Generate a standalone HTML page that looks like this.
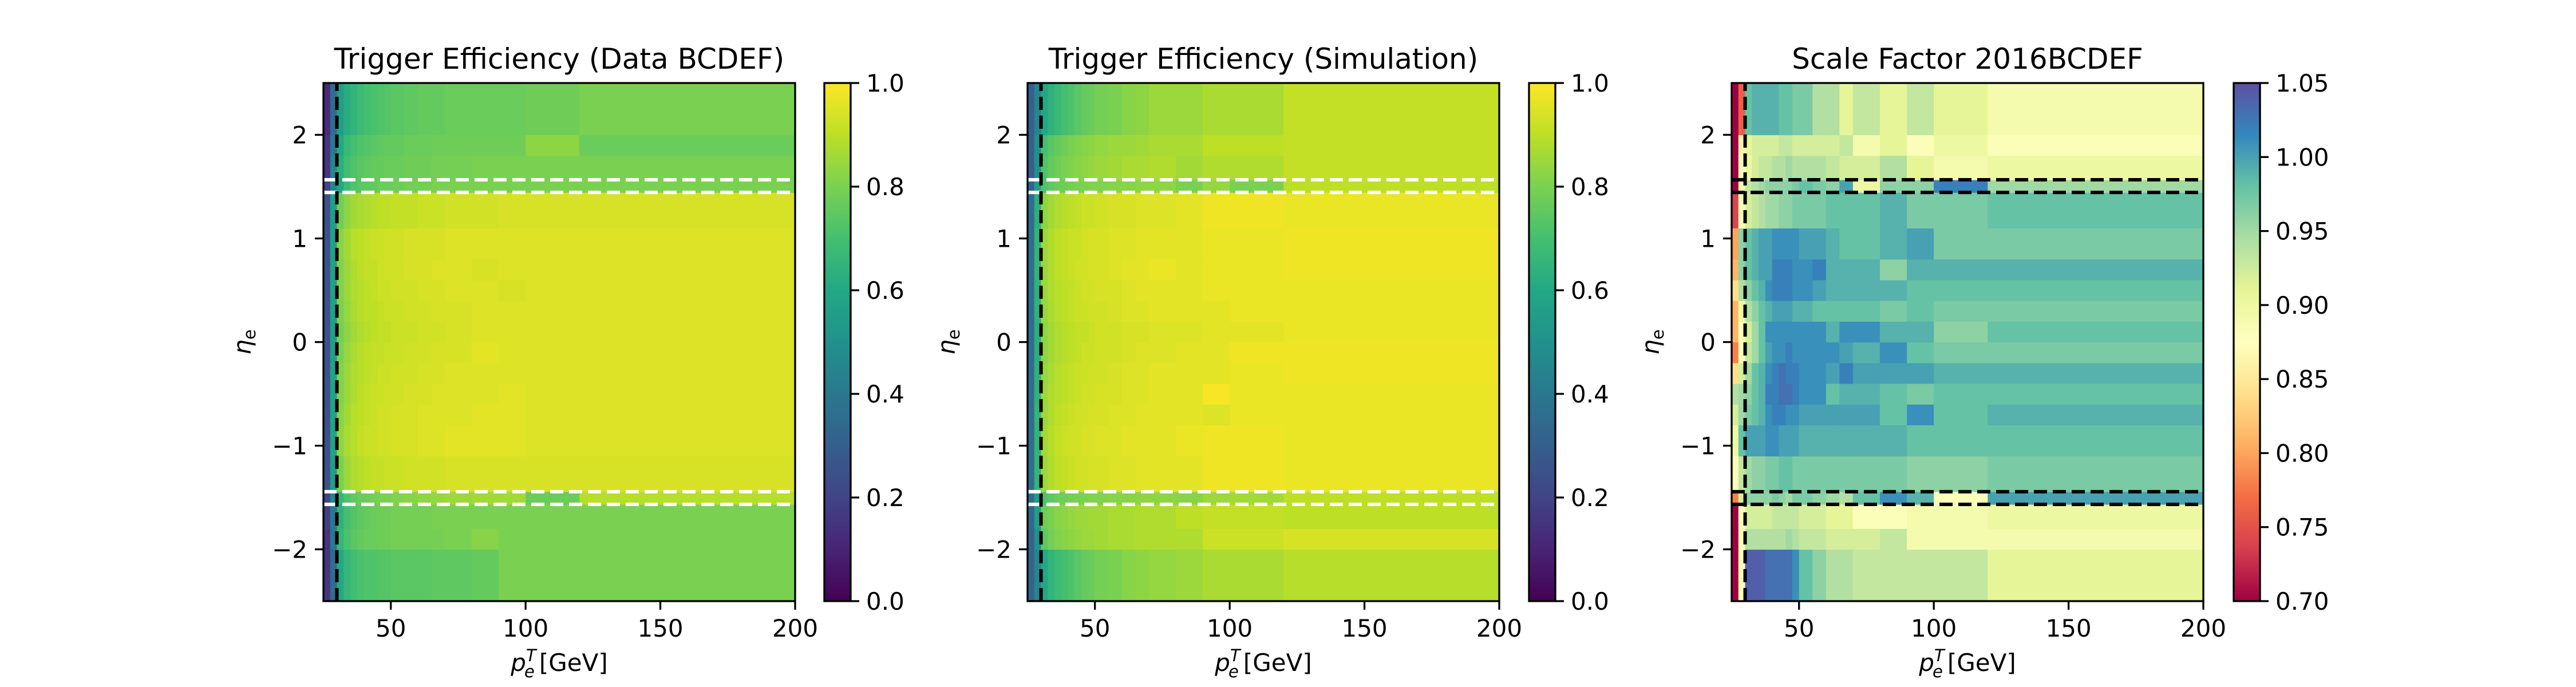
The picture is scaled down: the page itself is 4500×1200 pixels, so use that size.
<!DOCTYPE html>
<html><head><meta charset="utf-8">
<style>
html,body{margin:0;padding:0;background:#fff;}
svg{display:block;font-family:"DejaVu Sans","Liberation Sans",sans-serif;}
</style></head>
<body>
<svg id="fig" xmlns="http://www.w3.org/2000/svg" width="4500" height="1200" viewBox="0 0 4500 1200">
<defs id="defs"></defs>
</svg>
<script>
// ---- data ----
const ptEdges = [25,27.5,30,32.5,35,37.5,40,42.5,45,47.5,50,55,60,65,70,80,90,100,120,200];
const etaEdges = [-2.5,-2.0,-1.8,-1.566,-1.444,-1.1,-0.8,-0.6,-0.4,-0.2,0,0.2,0.4,0.6,0.8,1.1,1.444,1.566,1.8,2.0,2.5];
const xTicks = [50,100,150,200];
const yTicks = [-2,-1,0,1,2];
const effTicks = [0,0.2,0.4,0.6,0.8,1.0];
const sfTicks = [0.70,0.75,0.80,0.85,0.90,0.95,1.00,1.05];
const titles = ["Trigger Efficiency (Data BCDEF)","Trigger Efficiency (Simulation)","Scale Factor 2016BCDEF"];

const effData = [
[0.15,0.35,0.6,0.66,0.69,0.71,0.72,0.72,0.73,0.73,0.74,0.74,0.74,0.75,0.75,0.76,0.8,0.8,0.8],
[0.15,0.4,0.66,0.71,0.74,0.76,0.77,0.77,0.78,0.78,0.79,0.79,0.79,0.79,0.8,0.82,0.8,0.8,0.8],
[0.18,0.4,0.64,0.7,0.73,0.75,0.76,0.77,0.78,0.78,0.79,0.79,0.79,0.8,0.8,0.8,0.8,0.8,0.8],
[0.2,0.45,0.66,0.72,0.75,0.77,0.78,0.79,0.8,0.8,0.81,0.82,0.83,0.84,0.85,0.86,0.86,0.77,0.89],
[0.25,0.55,0.8,0.85,0.88,0.89,0.9,0.91,0.91,0.92,0.92,0.93,0.93,0.93,0.94,0.94,0.94,0.94,0.94],
[0.25,0.58,0.83,0.87,0.89,0.91,0.92,0.92,0.93,0.93,0.94,0.94,0.95,0.95,0.96,0.96,0.96,0.95,0.95],
[0.25,0.58,0.82,0.86,0.89,0.9,0.91,0.92,0.93,0.93,0.94,0.94,0.95,0.95,0.95,0.96,0.96,0.95,0.95],
[0.25,0.58,0.81,0.85,0.88,0.9,0.91,0.92,0.92,0.93,0.93,0.94,0.94,0.95,0.95,0.95,0.96,0.95,0.95],
[0.25,0.58,0.81,0.85,0.88,0.89,0.9,0.91,0.92,0.92,0.93,0.93,0.94,0.94,0.95,0.95,0.95,0.95,0.95],
[0.25,0.56,0.8,0.84,0.87,0.89,0.9,0.91,0.91,0.92,0.92,0.93,0.93,0.94,0.94,0.96,0.95,0.95,0.95],
[0.25,0.56,0.79,0.83,0.86,0.88,0.89,0.9,0.91,0.91,0.92,0.92,0.93,0.93,0.94,0.95,0.95,0.95,0.95],
[0.25,0.56,0.8,0.84,0.87,0.89,0.9,0.9,0.91,0.92,0.92,0.93,0.93,0.94,0.94,0.95,0.95,0.95,0.95],
[0.25,0.57,0.81,0.85,0.88,0.89,0.9,0.91,0.92,0.92,0.93,0.93,0.94,0.94,0.95,0.95,0.94,0.95,0.95],
[0.25,0.57,0.81,0.85,0.88,0.9,0.91,0.91,0.92,0.93,0.93,0.94,0.94,0.95,0.95,0.94,0.95,0.95,0.95],
[0.25,0.57,0.82,0.86,0.89,0.9,0.91,0.92,0.92,0.93,0.93,0.94,0.94,0.94,0.95,0.95,0.95,0.95,0.95],
[0.25,0.55,0.78,0.83,0.86,0.87,0.88,0.89,0.9,0.9,0.91,0.91,0.92,0.92,0.93,0.93,0.94,0.94,0.94],
[0.2,0.45,0.6,0.68,0.72,0.74,0.75,0.76,0.77,0.77,0.78,0.79,0.79,0.8,0.8,0.8,0.8,0.8,0.8],
[0.15,0.45,0.63,0.69,0.72,0.74,0.75,0.76,0.76,0.77,0.77,0.78,0.78,0.79,0.79,0.8,0.8,0.8,0.8],
[0.15,0.4,0.6,0.67,0.7,0.72,0.73,0.74,0.75,0.76,0.76,0.77,0.77,0.78,0.78,0.78,0.78,0.83,0.77],
[0.12,0.35,0.55,0.62,0.65,0.68,0.7,0.71,0.72,0.73,0.74,0.75,0.76,0.76,0.77,0.77,0.77,0.78,0.8]
];
const effSim = [
[0.32,0.45,0.6,0.65,0.68,0.7,0.72,0.74,0.76,0.77,0.79,0.8,0.82,0.83,0.84,0.85,0.87,0.87,0.89],
[0.32,0.5,0.75,0.79,0.81,0.82,0.83,0.84,0.85,0.85,0.86,0.87,0.87,0.88,0.88,0.88,0.92,0.92,0.94],
[0.33,0.55,0.78,0.8,0.82,0.83,0.84,0.85,0.85,0.86,0.86,0.87,0.87,0.88,0.88,0.9,0.91,0.91,0.9],
[0.35,0.55,0.72,0.75,0.77,0.78,0.79,0.8,0.8,0.81,0.81,0.82,0.82,0.83,0.83,0.82,0.85,0.86,0.9],
[0.35,0.65,0.85,0.88,0.9,0.91,0.92,0.93,0.93,0.94,0.94,0.95,0.95,0.96,0.96,0.96,0.98,0.98,0.97],
[0.35,0.65,0.86,0.89,0.91,0.92,0.93,0.93,0.94,0.94,0.95,0.95,0.96,0.96,0.96,0.97,0.98,0.98,0.97],
[0.35,0.65,0.85,0.88,0.9,0.91,0.92,0.93,0.93,0.94,0.94,0.95,0.95,0.96,0.96,0.96,0.95,0.97,0.97],
[0.35,0.64,0.85,0.88,0.89,0.9,0.91,0.92,0.93,0.93,0.94,0.94,0.95,0.95,0.96,0.96,0.99,0.97,0.97],
[0.35,0.64,0.84,0.87,0.89,0.9,0.91,0.92,0.92,0.93,0.93,0.94,0.95,0.95,0.96,0.96,0.96,0.97,0.98],
[0.35,0.63,0.83,0.86,0.88,0.89,0.9,0.91,0.92,0.92,0.93,0.93,0.94,0.95,0.95,0.96,0.96,0.98,0.98],
[0.35,0.63,0.83,0.86,0.88,0.89,0.9,0.91,0.91,0.92,0.93,0.93,0.94,0.94,0.95,0.95,0.96,0.96,0.97],
[0.35,0.64,0.84,0.87,0.89,0.9,0.91,0.92,0.92,0.93,0.93,0.94,0.95,0.95,0.96,0.96,0.96,0.97,0.97],
[0.35,0.64,0.85,0.88,0.89,0.9,0.91,0.92,0.93,0.93,0.94,0.94,0.95,0.96,0.96,0.96,0.97,0.97,0.97],
[0.35,0.65,0.85,0.88,0.9,0.91,0.92,0.93,0.93,0.94,0.94,0.95,0.96,0.96,0.97,0.96,0.97,0.97,0.98],
[0.35,0.65,0.85,0.88,0.9,0.91,0.92,0.92,0.93,0.94,0.94,0.95,0.95,0.96,0.96,0.96,0.97,0.97,0.98],
[0.35,0.63,0.83,0.86,0.88,0.89,0.9,0.91,0.92,0.92,0.93,0.94,0.94,0.95,0.95,0.96,0.98,0.98,0.97],
[0.32,0.55,0.72,0.75,0.77,0.78,0.79,0.8,0.8,0.81,0.81,0.82,0.82,0.83,0.83,0.8,0.84,0.8,0.9],
[0.3,0.5,0.72,0.76,0.78,0.8,0.81,0.82,0.83,0.84,0.85,0.86,0.87,0.87,0.88,0.86,0.88,0.88,0.91],
[0.3,0.5,0.7,0.74,0.76,0.78,0.8,0.81,0.82,0.83,0.84,0.85,0.85,0.86,0.87,0.87,0.9,0.9,0.91],
[0.3,0.45,0.6,0.64,0.67,0.7,0.72,0.74,0.76,0.77,0.79,0.8,0.82,0.83,0.85,0.85,0.87,0.87,0.91]
];
const scaleFactor = [
[0.70,0.88,1.04,1.04,1.04,1.03,1.03,1.03,1.03,1.01,0.98,0.96,0.94,0.94,0.93,0.93,0.93,0.93,0.91],
[0.70,0.88,0.94,0.94,0.94,0.94,0.94,0.94,0.95,0.94,0.93,0.93,0.92,0.92,0.92,0.93,0.89,0.89,0.89],
[0.70,0.88,0.92,0.92,0.92,0.92,0.93,0.93,0.93,0.93,0.92,0.92,0.91,0.91,0.88,0.88,0.89,0.89,0.90],
[0.78,0.92,0.96,0.96,0.96,0.96,0.97,0.96,0.95,0.97,0.97,0.96,0.95,0.94,0.98,1.01,0.99,0.88,1.00],
[0.88,0.93,0.95,0.96,0.96,0.97,0.97,0.98,0.98,0.97,0.97,0.97,0.97,0.97,0.97,0.97,0.96,0.96,0.97],
[0.90,0.98,1.0,1.0,1.0,1.01,1.01,1.0,1.0,1.0,0.99,0.99,0.99,0.99,0.99,0.99,0.98,0.98,0.98],
[0.92,0.95,0.97,0.98,0.99,1.01,1.02,1.02,1.01,1.01,1.0,1.0,1.0,1.0,1.0,0.98,1.01,0.98,0.99],
[0.94,0.95,0.96,0.98,0.99,1.02,1.02,1.03,1.03,1.02,1.01,1.01,0.98,0.99,0.99,0.98,0.97,0.98,0.98],
[0.84,0.92,0.95,0.98,0.99,1.01,1.02,1.03,1.02,1.02,1.01,1.01,1.0,1.02,1.0,1.0,1.0,0.99,0.99],
[0.78,0.88,0.93,0.95,0.98,1.0,1.01,1.01,1.02,1.01,1.01,1.01,1.01,1.0,0.99,1.01,0.98,0.97,0.97],
[0.81,0.88,0.92,0.95,0.98,1.01,1.01,1.01,1.01,1.01,1.01,1.01,0.99,1.01,1.01,0.99,0.99,0.96,0.98],
[0.81,0.9,0.94,0.96,0.98,0.99,1.0,1.0,1.0,0.99,0.99,0.98,0.98,0.98,0.98,0.97,0.98,0.97,0.97],
[0.84,0.94,0.96,0.98,0.99,1.01,1.02,1.02,1.02,1.01,1.01,1.0,0.99,0.99,0.99,0.99,0.98,0.98,0.98],
[0.81,0.96,0.98,0.99,1.0,1.0,1.02,1.02,1.02,1.01,1.01,1.02,0.99,0.99,0.99,0.96,0.99,0.99,0.99],
[0.80,0.96,0.98,0.99,1.0,1.0,1.01,1.01,1.01,1.01,1.0,1.0,0.99,0.98,0.98,0.99,1.0,0.97,0.97],
[0.74,0.88,0.92,0.93,0.94,0.95,0.95,0.96,0.96,0.97,0.97,0.97,0.98,0.98,0.98,0.99,0.97,0.97,0.98],
[0.70,0.89,0.93,0.94,0.95,0.96,0.96,0.96,0.96,0.97,0.98,0.97,0.96,1.0,0.90,0.96,0.96,1.02,0.95],
[0.70,0.88,0.90,0.92,0.93,0.93,0.94,0.94,0.95,0.94,0.94,0.94,0.93,0.92,0.92,0.94,0.91,0.89,0.90],
[0.70,0.86,0.91,0.92,0.92,0.92,0.92,0.93,0.93,0.92,0.92,0.92,0.92,0.93,0.89,0.91,0.88,0.90,0.88],
[0.70,0.76,0.98,0.99,0.99,0.99,0.99,0.98,0.98,0.97,0.97,0.94,0.94,0.91,0.93,0.91,0.93,0.91,0.89]
];

// ---- colormaps ----
const viridisStops = ["#440154","#482475","#414487","#355f8d","#2a788e","#21918c","#22a884","#44bf70","#7ad151","#bddf26","#fde725"];
const spectralStops = ["#9e0142","#d53e4f","#f46d43","#fdae61","#fee08b","#ffffbf","#e6f598","#abdda4","#66c2a5","#3288bd","#5e4fa2"];
function hex2rgb(h){return [parseInt(h.slice(1,3),16),parseInt(h.slice(3,5),16),parseInt(h.slice(5,7),16)];}
function cmap(stops,t){
  t=Math.max(0,Math.min(1,t));
  const n=stops.length-1, f=t*n, i=Math.min(n-1,Math.floor(f)), u=f-i;
  const a=hex2rgb(stops[i]), b=hex2rgb(stops[i+1]);
  return "rgb("+a.map((v,k)=>Math.round(v+(b[k]-v)*u)).join(",")+")";
}

const NS="http://www.w3.org/2000/svg";
const svg=document.getElementById('fig');
const defs=document.getElementById('defs');
function mk(tag,attrs,parent){const e=document.createElementNS(NS,tag);for(const k in attrs)e.setAttribute(k,attrs[k]);(parent||svg).appendChild(e);return e;}

const PY0=145, PY1=1050, PW=824;
const panels=[
 {x0:565, cb:1440, data:effData, stops:viridisStops, vmin:0, vmax:1, ticks:effTicks, dec:1, line:"#fff", name:"data-efficiency"},
 {x0:1795, cb:2671, data:effSim, stops:viridisStops, vmin:0, vmax:1, ticks:effTicks, dec:1, line:"#fff", name:"simulation-efficiency"},
 {x0:3025, cb:3902, data:scaleFactor, stops:spectralStops, vmin:0.7, vmax:1.05, ticks:sfTicks, dec:2, line:"#000", name:"scale-factor"}
];
const CBW=46;
const fmtMinus=s=>s.replace('-','\u2212');

panels.forEach((p,pi)=>{
  const g=mk('g',{});
  
  
  const xs=v=>p.x0+(v-25)/(200-25)*PW;
  const ys=v=>PY1-(v+2.5)/5*(PY1-PY0);
  const hm=mk('g',{},g);
  
  
  p.data.forEach((row,ri)=>{
    row.forEach((v,ci)=>{
      const x1=xs(ptEdges[ci]), x2=xs(ptEdges[ci+1]);
      const y1=ys(etaEdges[ri+1]), y2=ys(etaEdges[ri]);
      const r=mk('rect',{x:x1,y:y1,width:x2-x1+0.6,height:y2-y1+0.6,fill:cmap(p.stops,(v-p.vmin)/(p.vmax-p.vmin))},hm);
      
      
    });
  });
  [-1.566,-1.444,1.444,1.566].forEach(e=>{
    const l=mk('line',{x1:xs(25),x2:xs(200),y1:ys(e),y2:ys(e),stroke:p.line,'stroke-width':6,'stroke-dasharray':'23 10'},g);
    
    
  });
  const vl=mk('line',{x1:xs(30),x2:xs(30),y1:PY1,y2:PY0,stroke:'#000','stroke-width':6,'stroke-dasharray':'23 10'},g);
  
  
  const fr=mk('rect',{x:p.x0,y:PY0,width:PW,height:PY1-PY0,fill:'none',stroke:'#000','stroke-width':3.3},g);
  
  
  xTicks.forEach(t=>{
    const x=xs(t);
    const tk=mk('line',{x1:x,x2:x,y1:PY1,y2:PY1+15,stroke:'#000','stroke-width':3.3},g);
    
    
    const tx=mk('text',{x:x,y:1112,'font-size':42,'text-anchor':'middle'},g);
    tx.textContent=String(t);
    
    
  });
  yTicks.forEach(t=>{
    const y=ys(t);
    const tk=mk('line',{x1:p.x0-15,x2:p.x0,y1:y,y2:y,stroke:'#000','stroke-width':3.3},g);
    
    
    const tx=mk('text',{x:p.x0-28,y:y+15,'font-size':42,'text-anchor':'end'},g);
    tx.textContent=fmtMinus(String(t));
    
    
  });
  const ti=mk('text',{x:p.x0+PW/2,y:120,'font-size':50,'text-anchor':'middle'},g);
  ti.textContent=titles[pi];
  
  
  const xl=mk('text',{x:p.x0+PW/2,y:1172,'font-size':42,'text-anchor':'middle'},g);
  
  
  xl.innerHTML='<tspan font-style="italic">p</tspan><tspan font-style="italic" font-size="29" dy="-17">T</tspan><tspan font-style="italic" font-size="29" dx="-17" dy="28">e</tspan><tspan dy="-11" dx="8">[GeV]</tspan>';
  const yx=p.x0-127, yy=(PY0+PY1)/2;
  const yl=mk('text',{x:yx,y:yy,'font-size':42,'text-anchor':'middle',transform:`rotate(-90 ${yx} ${yy})`},g);
  
  
  yl.innerHTML='<tspan font-style="italic">η</tspan><tspan font-size="29" dy="8">e</tspan>';
  const gid='grad'+pi;
  const lg=mk('linearGradient',{id:gid,x1:0,y1:1,x2:0,y2:0},defs);
  p.stops.forEach((c,i)=>mk('stop',{offset:(i/(p.stops.length-1)),'stop-color':c},lg));
  const cb=mk('rect',{x:p.cb,y:PY0,width:CBW,height:PY1-PY0,fill:`url(#${gid})`,stroke:'#000','stroke-width':3.3},g);
  
  
  const cs=v=>PY1-(v-p.vmin)/(p.vmax-p.vmin)*(PY1-PY0);
  p.ticks.forEach(t=>{
    const y=cs(t);
    const tk=mk('line',{x1:p.cb+CBW,x2:p.cb+CBW+15,y1:y,y2:y,stroke:'#000','stroke-width':3.3},g);
    
    
    const tx=mk('text',{x:p.cb+CBW+27,y:y+15,'font-size':42},g);
    tx.textContent=t.toFixed(p.dec);
    
    
  });
});
</script>
</body></html>
